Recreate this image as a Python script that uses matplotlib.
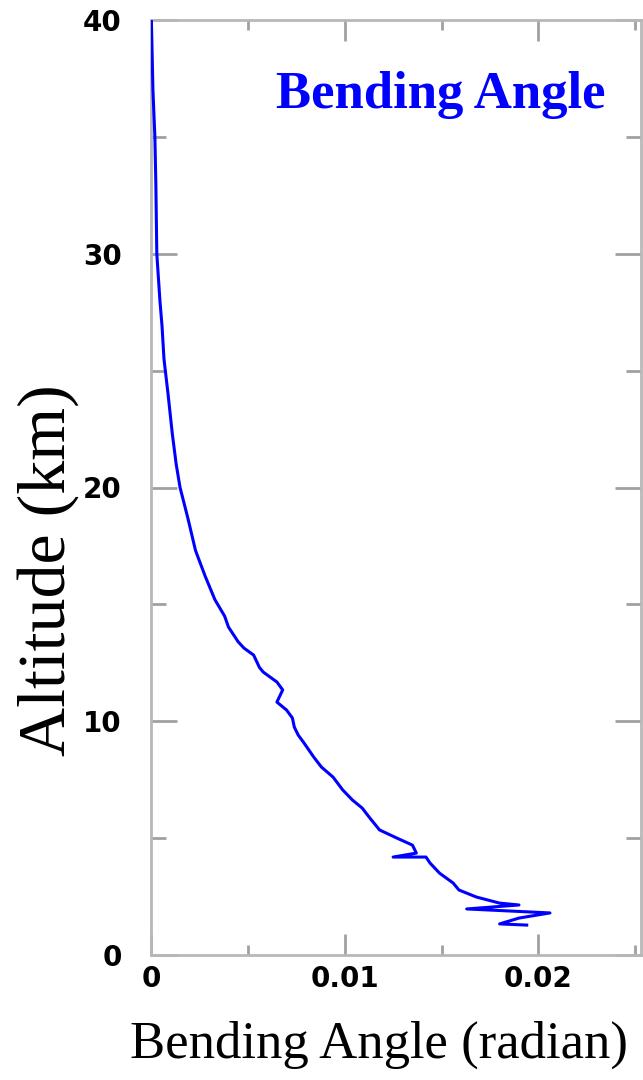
import matplotlib
matplotlib.use('Agg')
import matplotlib.pyplot as plt
from matplotlib.ticker import MultipleLocator

# Perfil de ángulo de curvatura (lectura aproximada de la figura)
altitud_km = [40, 37, 35, 33, 30, 28.0, 26.9, 25.5, 24.0, 22.3, 21.0, 20.0,
              18.7, 17.3, 16.2, 15.2, 14.5, 14.03, 13.4, 13.13, 12.83, 12.3,
              12.1, 11.68, 11.34, 10.82, 10.48, 10.14, 9.75, 9.41, 9.07, 8.47,
              8.04, 7.61, 7.06, 6.63, 6.29, 5.86, 5.35, 5.0, 4.7, 4.36, 4.19,
              4.19, 3.94, 3.5, 3.08, 2.78, 2.48, 2.22, 2.14, 1.97, 1.8, 1.58,
              1.33, 1.28]
angulo_rad = [0.00002, 0.0001, 0.0002, 0.00025, 0.0003, 0.00046, 0.00057,
              0.00067, 0.00088, 0.0011, 0.0013, 0.0015, 0.0019, 0.0023, 0.0028,
              0.0033, 0.0038, 0.004, 0.0045, 0.0048, 0.0053, 0.0056, 0.0058,
              0.0065, 0.0068, 0.0065, 0.007, 0.0073, 0.0074, 0.0076, 0.0079,
              0.0084, 0.0088, 0.0094, 0.0099, 0.0104, 0.0109, 0.0113, 0.0118,
              0.0127, 0.0135, 0.0137, 0.0125, 0.0142, 0.0144, 0.0149, 0.0156,
              0.0159, 0.0168, 0.018, 0.019, 0.0163, 0.0206, 0.019, 0.018, 0.0194]

x_ticks = [0, 0.01, 0.02]
x_ticklabels = ['0', '0.01', '0.02']
y_ticks = [0, 10, 20, 30, 40]

fig = plt.figure(figsize=(6.43, 10.8), dpi=100)
ax = fig.add_axes([151 / 643, 125 / 1080, 490 / 643, 935 / 1080])

ax.plot(angulo_rad, altitud_km, color='#0000ff', lw=2.2, zorder=3)

ax.set_xlim(0, 0.0253)
ax.set_ylim(0, 40)
ax.set_xticks(x_ticks)
ax.set_xticklabels(x_ticklabels)
ax.set_yticks(y_ticks)
ax.xaxis.set_minor_locator(MultipleLocator(0.005))
ax.yaxis.set_minor_locator(MultipleLocator(5))

for s in ax.spines.values():
    s.set_color('#b8b8b8')
    s.set_linewidth(2)

ax.tick_params(axis='both', which='both', direction='in', top=True, right=True,
               color='#a0a0a0', width=2, labelcolor='black')
ax.tick_params(axis='x', which='major', length=15, pad=7, labelsize=20)
ax.tick_params(axis='x', which='minor', length=7)
ax.tick_params(axis='y', which='major', length=19, pad=21, labelsize=20)
ax.tick_params(axis='y', which='minor', length=11)
for lbl in ax.get_xticklabels() + ax.get_yticklabels():
    lbl.set_family('DejaVu Sans')
    lbl.set_fontweight('bold')

ax.set_xlabel('Bending Angle (radian)', fontsize=38, family='Liberation Serif', va='baseline')
ax.xaxis.set_label_coords((379 - 151) / 490, (955 - 1058) / 935)
ax.set_ylabel('Altitude (km)', fontsize=49, family='Liberation Serif', va='center')
ax.yaxis.set_label_coords((48 - 151) / 490, (955 - 570) / 935)

ax.text((605 - 151) / 490, (955 - 108) / 935, 'Bending Angle', transform=ax.transAxes,
        ha='right', va='baseline', fontsize=38, fontweight='bold',
        family='Liberation Serif', color='#0000ff')

fig.savefig('out.png', dpi=100)
